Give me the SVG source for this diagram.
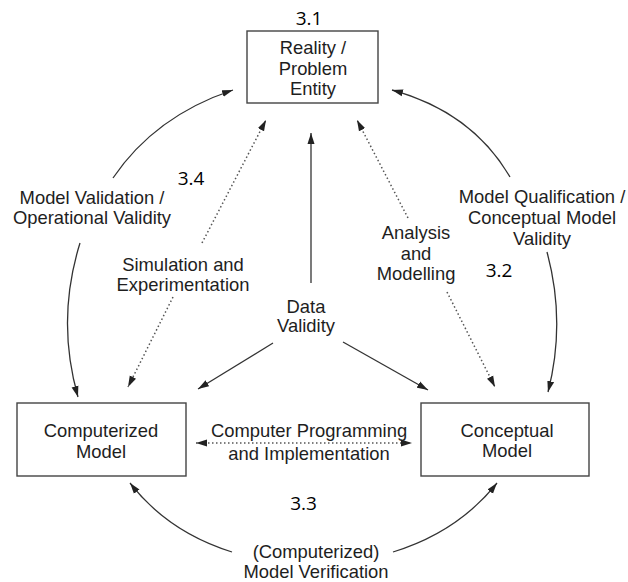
<svg xmlns="http://www.w3.org/2000/svg" width="628" height="582" viewBox="0 0 628 582">
<style>
.box{fill:#fff;stroke:#444;stroke-width:1.4}
.t{font-family:"Liberation Sans",Arial,sans-serif;font-size:18.4px;fill:#1e1e1e;text-anchor:middle}
.n{font-family:"Open Sans","Liberation Sans",sans-serif;font-size:19px;fill:#000;text-anchor:middle}
.c{fill:none;stroke:#333;stroke-width:1.3}
.d{fill:none;stroke:#555;stroke-width:1.5;stroke-dasharray:1.5 2.5}
</style>
<defs>
<marker id="ah" markerUnits="userSpaceOnUse" markerWidth="12" markerHeight="8" refX="11" refY="4" orient="auto-start-reverse">
<path d="M0,0.5 L11,4 L0,7.5 Z" fill="#222"/>
</marker>
</defs>
<rect width="628" height="582" fill="#fff"/>
<g id="connectors">
<path class="c" d="M113,178 Q155,116 233,90" marker-end="url(#ah)"/>
<path class="c" d="M80,243 Q56,320 78,397" marker-end="url(#ah)"/>
<path class="c" d="M510,177 Q472,112 392,90" marker-end="url(#ah)"/>
<path class="c" d="M547,252 Q566,322 548,392" marker-end="url(#ah)"/>
<path class="c" d="M232,552 Q168,532 130,483" marker-end="url(#ah)"/>
<path class="c" d="M393,552 Q458,532 497,483" marker-end="url(#ah)"/>
<path class="c" d="M311,283 L311,133" marker-end="url(#ah)"/>
<path class="c" d="M273,343 L198,389" marker-end="url(#ah)"/>
<path class="c" d="M343,342 L428,390" marker-end="url(#ah)"/>
<path class="d" d="M202,243 L266,120" marker-end="url(#ah)"/>
<path class="d" d="M173,297 L128,387" marker-end="url(#ah)"/>
<path class="d" d="M408,218 L357,120" marker-end="url(#ah)"/>
<path class="d" d="M447,292 L495,387" marker-end="url(#ah)"/>
<path class="d" d="M196,443 L412,443" marker-start="url(#ah)" marker-end="url(#ah)"/>
</g>
<g id="reality">
<rect class="box" x="247" y="31" width="131" height="72"/>
<text class="t" x="313" y="54">Reality /</text>
<text class="t" x="313" y="74.5">Problem</text>
<text class="t" x="313" y="95">Entity</text>
</g>
<g id="computerized">
<rect class="box" x="17" y="403" width="169" height="73"/>
<text class="t" x="101" y="437">Computerized</text>
<text class="t" x="101" y="458">Model</text>
</g>
<g id="conceptual">
<rect class="box" x="421" y="403" width="168" height="73"/>
<text class="t" x="507" y="437">Conceptual</text>
<text class="t" x="507" y="457">Model</text>
</g>
<g id="labels">
<text class="t" x="92" y="204">Model Validation /</text>
<text class="t" x="92" y="224">Operational Validity</text>
<text class="t" x="183" y="271">Simulation and</text>
<text class="t" x="183" y="291">Experimentation</text>
<text class="t" x="306" y="313">Data</text>
<text class="t" x="306" y="332">Validity</text>
<text class="t" x="416" y="239">Analysis</text>
<text class="t" x="416" y="260">and</text>
<text class="t" x="416" y="280">Modelling</text>
<text class="t" x="542" y="203">Model Qualification /</text>
<text class="t" x="542" y="224">Conceptual Model</text>
<text class="t" x="542" y="245">Validity</text>
<text class="t" x="309" y="437">Computer Programming</text>
<text class="t" x="309" y="460">and Implementation</text>
<text class="t" x="316" y="558">(Computerized)</text>
<text class="t" x="316" y="578">Model Verification</text>
</g>
<g id="numbers">
<text class="n" x="309" y="25">3.1</text>
<text class="n" x="499" y="277">3.2</text>
<text class="n" x="303.5" y="510">3.3</text>
<text class="n" x="191" y="185">3.4</text>
</g>
</svg>
